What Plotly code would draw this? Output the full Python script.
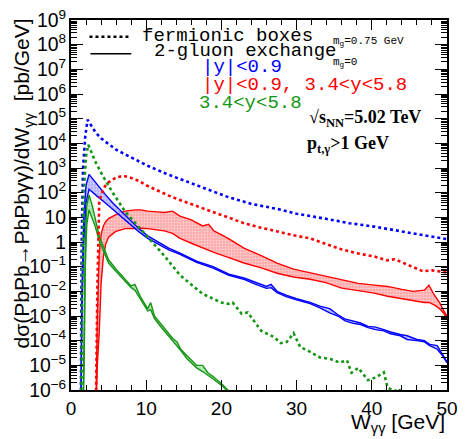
import plotly.graph_objects as go

# ---------------- data ----------------
# fermionic boxes, |y|<0.9 (blue dotted)
W_box_c = [1.30, 1.42, 1.60, 1.90, 2.20, 2.60, 3.30, 4.00, 5.00, 6.00, 7.60, 9.00, 10.2, 12.8, 14.5,
           16.7, 20.9, 24.0, 27.4, 30.0, 33.9, 37.0, 40.3, 43.0, 46.0, 49.0, 50.0]
box_c = [1e-7, 1.0, 1e3, 2e4, 9e4, 6e4, 2.7e4, 1.6e4, 9.1e3, 5.5e3, 3.1e3, 1.9e3, 1.23e3, 5.6e2, 3.5e2,
         2.0e2, 66, 35, 22, 14, 8.7, 5.8, 4.2, 3.0, 2.1, 1.4, 1.3]

# fermionic boxes, |y|<0.9 & 3.4<y<5.8 (red dotted)
W_box_cf = [3.30, 3.50, 3.75, 4.00, 4.50, 5.00, 6.00, 7.00, 8.00, 9.00, 10.0, 11.5, 13.0, 14.5, 17.0,
            19.0, 21.0, 23.0, 25.0, 27.4, 29.5, 31.8, 34.0, 36.0, 38.0, 40.3, 42.0, 43.0, 43.8, 45.0,
            46.8, 48.0, 49.4, 50.0]
box_cf = [1e-7, 1e-2, 40, 79, 178, 263, 417, 479, 398, 302, 200, 120, 76, 50, 26,
          16, 9.5, 5.8, 4.0, 2.6, 1.9, 1.4, 0.83, 0.5, 0.35, 0.26, 0.18, 0.2, 0.16, 0.11,
          0.065, 0.071, 0.063, 0.058]

# fermionic boxes, 3.4<y<5.8 (green dotted)
W_box_f = [1.35, 1.50, 1.70, 2.00, 2.30, 3.30, 4.20, 5.50, 7.20, 8.90, 10.2, 12.4, 14.5, 16.2, 17.5,
           18.9, 20.0, 20.9, 21.5, 22.7, 23.5, 25.3, 27.0, 27.9, 28.7, 29.6, 30.5, 31.5, 33.1, 34.5,
           35.7, 36.7, 37.3, 38.2, 39.5, 40.5, 41.6, 42.1, 43.0, 43.6, 44.2]
box_f = [1e-7, 0.1, 100, 3000, 8700, 1660, 500, 105, 17, 4.5, 1.58, 0.28, 0.045, 0.016, 0.0079,
         0.005, 0.0035, 0.0031, 0.0035, 0.00123, 0.0014, 2.5e-4, 1.4e-4, 7.9e-5, 8.9e-5, 2.0e-4, 5.4e-5, 4.0e-5, 2.1e-5, 1.8e-5,
         1.3e-5, 1.6e-5, 5.0e-6, 7.9e-6, 2.5e-6, 3.2e-6, 5.2e-6, 1.26e-6, 8.9e-7, 1.12e-6, 5e-7]

# 2-gluon exchange, |y|<0.9 (blue band: m_g=0 / m_g=0.75 GeV)
W_gl_c = [1.30, 1.45, 1.70, 2.00, 2.40, 2.90, 3.50, 4.50, 5.50, 7.20, 9.00, 10.2, 11.5, 13.0, 14.5,
          16.7, 18.9, 21.0, 23.1, 24.4, 26.0, 26.6, 27.4, 28.7, 30.0, 31.8, 33.1, 34.4, 35.5, 36.4,
          37.5, 38.5, 39.5, 40.5, 41.6, 42.5, 43.8, 44.7, 46.0, 47.0, 47.7, 48.7, 49.4, 50.0]
gl_c_m0 = [1e-7, 0.01, 10, 200, 550, 347, 200, 89, 40, 12.6, 3.55, 1.78, 1.05, 0.56, 0.355,
           0.166, 0.1, 0.05, 0.034, 0.024, 0.0158, 0.019, 0.01, 0.0068, 0.005, 0.00355, 0.0025, 0.002, 0.00112, 7.6e-4,
           6.3e-4, 5.2e-4, 3.8e-4, 3.55e-4, 2.8e-4, 2.24e-4, 1.78e-4, 1.58e-4, 1.12e-4, 1e-4, 7.1e-5, 6.3e-5, 2.8e-5, 1.4e-5]
gl_c_m075 = [1e-7, 1e-3, 1, 40, 138, 105, 71, 40, 22, 7.9, 2.63, 1.41, 0.83, 0.48, 0.316,
             0.148, 0.087, 0.045, 0.03, 0.02, 0.0132, 0.0141, 0.0089, 0.006, 0.0045, 0.00316, 0.00214, 0.00135, 0.001, 6.5e-4,
             5e-4, 4.5e-4, 3.4e-4, 2.8e-4, 2.5e-4, 1.9e-4, 1.58e-4, 1.12e-4, 1e-4, 8.9e-5, 6.3e-5, 4.5e-5, 2.5e-5, 1.26e-5]

# 2-gluon exchange, |y|<0.9 & 3.4<y<5.8 (red band)
W_gl_cf = [3.30, 3.50, 3.75, 4.00, 4.30, 4.60, 5.00, 5.90, 7.20, 8.50, 9.30, 10.2, 11.5, 12.4, 13.5,
           14.5, 16.0, 17.5, 18.3, 19.0, 20.9, 23.0, 25.3, 27.4, 29.6, 31.8, 33.9, 36.0, 38.2, 40.3,
           42.1, 44.0, 45.5, 47.0, 47.6, 48.3, 49.0, 49.6, 50.0]
gl_cf_m0 = [1e-7, 1e-3, 0.32, 2.0, 4.47, 6.6, 8.9, 12.6, 17.8, 20, 20, 17.8, 16.6, 15.8, 17.8,
            11.2, 7.9, 4.47, 5.25, 2.82, 1.41, 0.56, 0.28, 0.14, 0.079, 0.056, 0.041, 0.028, 0.021, 0.0178,
            0.0158, 0.012, 0.01, 0.0112, 0.0178, 0.0071, 0.00355, 0.00158, 0.001]
gl_cf_m075 = [1e-7, 1e-5, 2e-4, 0.02, 0.25, 0.79, 1.58, 2.63, 3.47, 3.63, 3.63, 3.47, 3.16, 2.82, 2.24,
              1.41, 0.89, 0.56, 0.45, 0.38, 0.24, 0.141, 0.089, 0.054, 0.038, 0.031, 0.0224, 0.0135, 0.0107, 0.0085,
              0.0063, 0.005, 0.00447, 0.00355, 0.00355, 0.0028, 0.002, 0.00126, 7.9e-4]

# 2-gluon exchange, 3.4<y<5.8 (green band)
W_gl_f = [1.60, 1.75, 1.90, 2.10, 2.40, 2.80, 3.20, 3.75, 4.20, 5.00, 6.00, 7.20, 8.00, 8.50, 9.20,
          10.2, 10.6, 11.1, 12.0, 12.8, 13.5, 14.1, 14.6, 15.4, 16.2, 16.7, 17.5, 18.2, 18.9, 20.2,
          21.0, 21.5]
gl_f_m0 = [1e-7, 1e-3, 1, 30, 80, 32, 10, 1.78, 0.79, 0.19, 0.079, 0.032, 0.0166, 0.019, 0.0063,
           0.002, 0.0035, 1e-3, 4.5e-4, 2.2e-4, 1.26e-4, 8.9e-5, 4.5e-5, 2.5e-5, 1.4e-5, 1e-5, 1e-5, 5e-6, 3.5e-6, 1.6e-6,
           8.9e-7, 5e-7]
gl_f_m075 = [1e-7, 1e-5, 0.1, 5, 20, 10, 4.5, 1.12, 0.56, 0.14, 0.063, 0.025, 0.0141, 0.0112, 0.005,
             0.0016, 0.0018, 7.9e-4, 3.5e-4, 1.8e-4, 1e-4, 6.3e-5, 4e-5, 1.9e-5, 1.12e-5, 7.9e-6, 5.6e-6, 4e-6, 2.8e-6, 1.4e-6,
             7.9e-7, 5e-7]

BLUE = "rgb(0,0,255)"
RED = "rgb(255,0,0)"
GREEN = "rgb(20,150,20)"

fig = go.Figure()


def band(x, lo, hi, color, bg):
    fig.add_trace(go.Scatter(x=x, y=lo, mode="lines", line=dict(color=color, width=1.4),
                             showlegend=False, hoverinfo="skip"))
    fig.add_trace(go.Scatter(x=x, y=hi, mode="lines", line=dict(color=color, width=1.4),
                             fill="tonexty", fillcolor=bg,
                             fillpattern=dict(shape=".", fgcolor="white", bgcolor=bg, size=3, solidity=0.35),
                             showlegend=False, hoverinfo="skip"))


def dotted(x, y, color):
    fig.add_trace(go.Scatter(x=x, y=y, mode="lines", line=dict(color=color, width=2.6, dash="3px,3px"),
                             showlegend=False, hoverinfo="skip"))


band(W_gl_cf, gl_cf_m075, gl_cf_m0, RED, "rgba(255,140,140,0.75)")
band(W_gl_c, gl_c_m075, gl_c_m0, BLUE, "rgba(150,150,255,0.75)")
band(W_gl_f, gl_f_m075, gl_f_m0, GREEN, "rgba(140,210,140,0.75)")
dotted(W_box_c, box_c, BLUE)
dotted(W_box_cf, box_cf, RED)
dotted(W_box_f, box_f, GREEN)

# empty helper trace so that the overlaid minor-tick axis is drawn
fig.add_trace(go.Scatter(x=[None], y=[None], yaxis="y2", mode="lines", showlegend=False, hoverinfo="skip"))

FONT = "Liberation Sans, Arial, sans-serif"
MONO = "Liberation Mono, Courier New, monospace"
SERIF = "Liberation Serif, Times New Roman, serif"

# minor tick positions of the log axis (2..9 x each decade)
y_minor = [m * 10.0 ** e for e in range(-6, 9) for m in range(2, 10)]

fig.update_layout(
    width=465, height=439,
    margin=dict(l=71, r=7, t=16, b=49),
    paper_bgcolor="white", plot_bgcolor="white",
    font=dict(family=FONT, size=19, color="black"),
    xaxis=dict(range=[0, 50], tickmode="linear", tick0=0, dtick=10,
               ticks="inside", ticklen=10, tickwidth=1, tickcolor="black",
               minor=dict(ticks="inside", ticklen=5, tickwidth=1, tickcolor="black", dtick=2, showgrid=False),
               showline=True, linecolor="black", linewidth=1.5, mirror="ticks",
               showgrid=False, zeroline=False, tickfont=dict(size=19), ticklabeloverflow="allow"),
    yaxis=dict(type="log", range=[-6, 9], tickmode="linear", tick0=0, dtick=1, exponentformat="power",
               ticks="inside", ticklen=12, tickwidth=1, tickcolor="black",
               showline=True, linecolor="black", linewidth=1.5, mirror="ticks",
               showgrid=False, zeroline=False, tickfont=dict(size=15.5)),
    yaxis2=dict(type="log", range=[-6, 9], overlaying="y", side="left", anchor="x",
                tickmode="array", tickvals=y_minor, showticklabels=False,
                ticks="inside", ticklen=6, tickwidth=1, tickcolor="black",
                showline=True, linecolor="black", linewidth=1.5, mirror="ticks",
                showgrid=False, zeroline=False),
)

px_x = lambda p: (p - 71) / 387
px_y = lambda p: (390 - p) / 374

ann = []
ann.append(dict(text="dσ(PbPb→PbPbγγ)/dW<sub>γγ</sub>  [pb/GeV]", textangle=-90,
                x=px_x(22), y=px_y(12), xanchor="center", yanchor="top",
                font=dict(family=FONT, size=21)))
ann.append(dict(text="W<sub>γγ</sub> [GeV]", x=px_x(458), y=px_y(423), xanchor="right", yanchor="middle",
                font=dict(family=FONT, size=21)))
ann.append(dict(text="fermionic boxes", x=px_x(142), y=px_y(32), xanchor="left", yanchor="middle",
                font=dict(family=MONO, size=19)))
ann.append(dict(text="2-gluon exchange", x=px_x(154), y=px_y(47), xanchor="left", yanchor="middle",
                font=dict(family=MONO, size=19)))
ann.append(dict(text="m<sub>g</sub>=0.75 GeV", x=px_x(339), y=px_y(38), xanchor="left", yanchor="middle",
                font=dict(family=MONO, size=11)))
ann.append(dict(text="m<sub>g</sub>=0", x=px_x(339), y=px_y(59), xanchor="left", yanchor="middle",
                font=dict(family=MONO, size=11)))
ann.append(dict(text="|y|<0.9", x=px_x(204), y=px_y(64), xanchor="left", yanchor="middle",
                font=dict(family=MONO, size=19, color=BLUE)))
ann.append(dict(text="|y|<0.9, 3.4<y<5.8", x=px_x(204), y=px_y(82), xanchor="left", yanchor="middle",
                font=dict(family=MONO, size=19, color=RED)))
ann.append(dict(text="3.4<y<5.8", x=px_x(201), y=px_y(100), xanchor="left", yanchor="middle",
                font=dict(family=MONO, size=19, color=GREEN)))
ann.append(dict(text="<b>√s<sub>NN</sub>=5.02 TeV</b>", x=px_x(314), y=px_y(116), xanchor="left", yanchor="middle",
                font=dict(family=SERIF, size=18)))
ann.append(dict(text="<b>p<sub>t,γ</sub>>1 GeV</b>", x=px_x(312), y=px_y(142), xanchor="left", yanchor="middle",
                font=dict(family=SERIF, size=18)))
for a in ann:
    a.update(xref="paper", yref="paper", showarrow=False)
fig.update_layout(annotations=ann)

# legend line samples
fig.add_shape(type="line", xref="paper", yref="paper", x0=px_x(90), x1=px_x(132), y0=px_y(33), y1=px_y(33),
              line=dict(color="black", width=2.6, dash="3px,3px"))
fig.add_shape(type="line", xref="paper", yref="paper", x0=px_x(91), x1=px_x(133), y0=px_y(50), y1=px_y(50),
              line=dict(color="black", width=1.5))

fig.write_html("out.html", config={"displayModeBar": False},
               post_script="document.body.style.margin='0px';")
